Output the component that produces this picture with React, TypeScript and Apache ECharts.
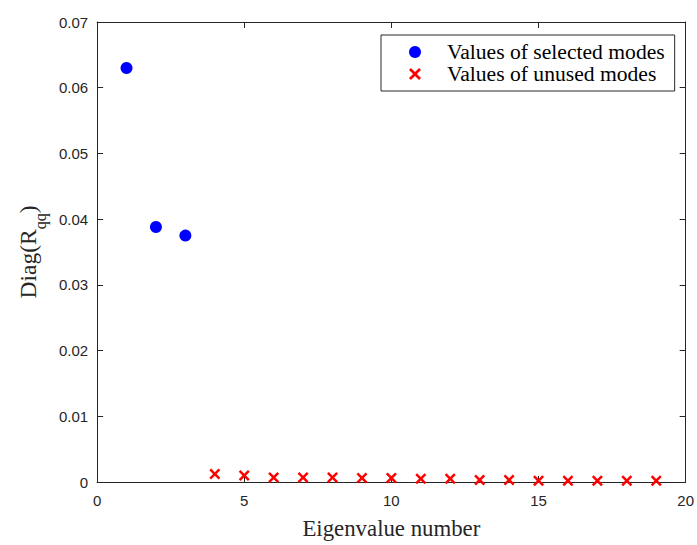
import React, { useEffect, useRef } from "react";
import * as echarts from "echarts";

const selectedX = [1, 2, 3];
const selectedY = [0.063, 0.0388, 0.0375];
const unusedX = [4, 5, 6, 7, 8, 9, 10, 11, 12, 13, 14, 15, 16, 17, 18, 19];
const unusedY = [0.0012, 0.001, 0.0007, 0.0007, 0.0007, 0.0006, 0.0006, 0.0005, 0.0005, 0.0003, 0.0003, 0.0002, 0.0002, 0.0002, 0.0002, 0.0002];
const seriesNames = ["Values of selected modes", "Values of unused modes"];
const xTitle = "Eigenvalue number";

const CROSS = "path://M0,1.6L1.6,0L5,3.4L8.4,0L10,1.6L6.6,5L10,8.4L8.4,10L5,6.6L1.6,10L0,8.4L3.4,5Z";
const AXC = "#262626";
const SERIF = "Liberation Serif, Times New Roman, serif";

export default function App() {
  const ref = useRef<HTMLDivElement>(null);
  useEffect(() => {
    const chart = echarts.init(ref.current!, null, { renderer: "svg" });
    const tickFont = { fontFamily: "Liberation Sans, Arial, sans-serif", fontSize: 15, color: AXC };
    const mirrorX = {
      type: "value", min: 0, max: 20, interval: 5,
      axisLine: { show: true, onZero: false, lineStyle: { color: AXC, width: 1 } },
      axisTick: { show: true, inside: true, length: 6, lineStyle: { color: AXC } },
      splitLine: { show: false },
    };
    const mirrorY = {
      type: "value", min: 0, max: 0.07, interval: 0.01,
      axisLine: { show: true, onZero: false, lineStyle: { color: AXC, width: 1 } },
      axisTick: { show: true, inside: true, length: 6, lineStyle: { color: AXC } },
      splitLine: { show: false },
    };
    chart.setOption({
      animation: false,
      backgroundColor: "#ffffff",
      grid: { left: 95, right: 11, top: 22, bottom: 56, containLabel: false },
      xAxis: [
        {
          ...mirrorX, position: "bottom",
          axisLabel: { ...tickFont, margin: 11 },
          name: xTitle, nameLocation: "middle", nameGap: 35,
          nameTextStyle: { fontFamily: SERIF, fontSize: 22.8, color: AXC },
        },
        { ...mirrorX, position: "top", axisLabel: { show: false } },
      ],
      yAxis: [
        {
          ...mirrorY, position: "left",
          axisLabel: { ...tickFont, margin: 9 },
          name: "{a|Diag(R}{s|qq}{a|)}", nameLocation: "middle", nameGap: 50, nameRotate: 90,
          nameTextStyle: {
            color: AXC,
            rich: {
              a: { fontFamily: SERIF, fontSize: 23.5, color: AXC, lineHeight: 26, verticalAlign: "middle" },
              s: { fontFamily: SERIF, fontSize: 16, color: AXC, lineHeight: 17, padding: [24, 0, 0, 0], verticalAlign: "middle" },
            },
          },
        },
        { ...mirrorY, position: "right", axisLabel: { show: false } },
      ],
      legend: {
        show: true,
        orient: "vertical",
        left: 381, top: 35,
        padding: [6, 10, 6, 28],
        itemGap: 0,
        itemWidth: 12, itemHeight: 12,
        backgroundColor: "#ffffff",
        borderColor: AXC, borderWidth: 1, borderRadius: 0,
        textStyle: { fontFamily: SERIF, fontSize: 21.6, lineHeight: 22, color: "#000000", padding: [0, 0, 0, 21] },
        data: [
          { name: seriesNames[0], icon: "circle" },
          { name: seriesNames[1], icon: CROSS },
        ],
      },
      series: [
        {
          name: seriesNames[0], type: "scatter",
          symbol: "circle", symbolSize: 12,
          itemStyle: { color: "#0000ff", opacity: 1 },
          data: selectedX.map((x, i) => [x, selectedY[i]]),
        },
        {
          name: seriesNames[1], type: "scatter",
          symbol: CROSS, symbolSize: 11,
          itemStyle: { color: "#ff0000", opacity: 1 },
          data: unusedX.map((x, i) => [x, unusedY[i]]),
        },
      ],
    });
    return () => chart.dispose();
  }, []);
  return <div ref={ref} style={{ position: "fixed", left: 0, top: 0, width: 697, height: 545 }} />;
}
